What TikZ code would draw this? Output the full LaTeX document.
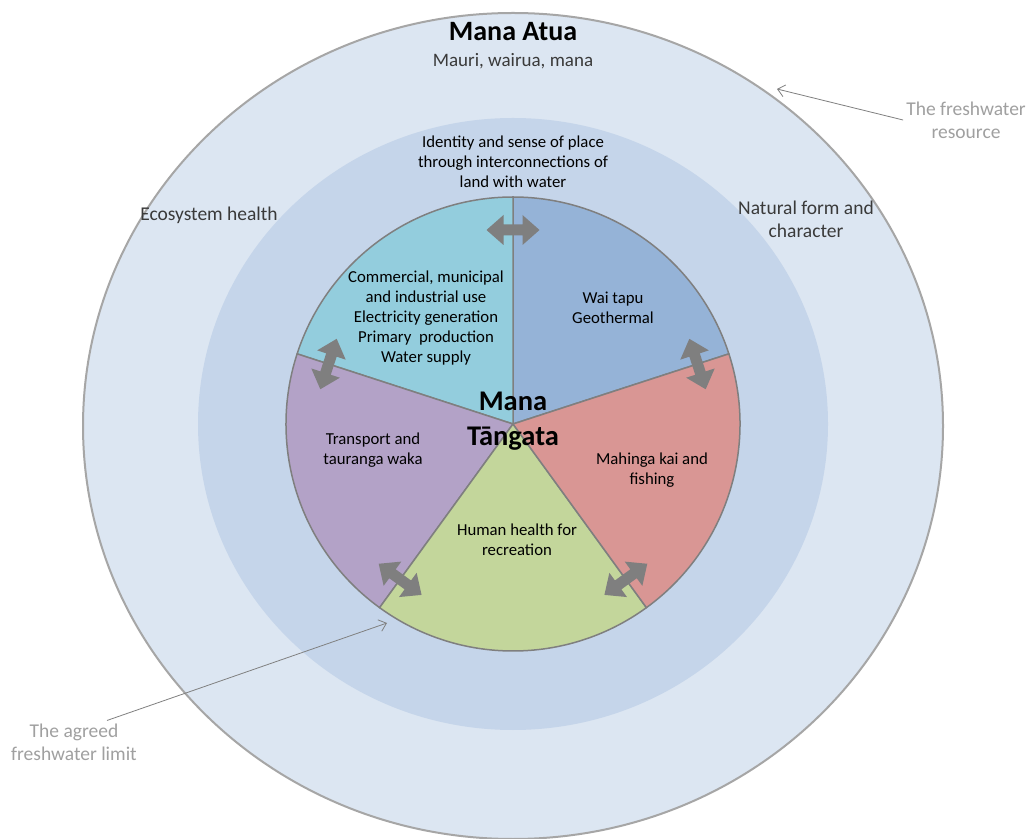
\documentclass[tikz,border=0pt]{standalone}
\usepackage{fontspec}
\setmainfont{Carlito}
\usetikzlibrary{arrows.meta}
\definecolor{outerc}{HTML}{DCE6F2}
\definecolor{outerline}{HTML}{A6A6A6}
\definecolor{midc}{HTML}{C5D5EA}
\definecolor{cyanc}{HTML}{93CDDD}
\definecolor{bluec}{HTML}{95B3D7}
\definecolor{pinkc}{HTML}{D99694}
\definecolor{greenc}{HTML}{C3D69B}
\definecolor{purplec}{HTML}{B3A2C7}
\definecolor{piegray}{HTML}{7F7F7F}
\definecolor{arrowc}{HTML}{7F7F7F}
\definecolor{darktext}{HTML}{3A3A3A}
\definecolor{notetext}{HTML}{A0A0A0}
\definecolor{noteline}{HTML}{808080}
\tikzset{
  slice/.style={draw=piegray, line width=1.5, line join=round},
  innerlabel/.style={align=center, text=black, font=\fontsize{16.75}{20}\selectfont, inner sep=0},
  outerlabel/.style={align=center, text=darktext, font=\fontsize{19.5}{23}\selectfont, inner sep=0},
  notelabel/.style={align=center, text=notetext, font=\fontsize{19.5}{23}\selectfont, inner sep=3},
  noteline/.style={draw=noteline, line width=0.8, -{Straight Barb[length=7,width=12,line width=0.8]}},
  dblarrow/.pic={\fill[arrowc] (-26.5,0) -- (-9.5,15) -- (-9.5,5.5) -- (9.5,5.5) -- (9.5,15) -- (26.5,0) -- (9.5,-15) -- (9.5,-5.5) -- (-9.5,-5.5) -- (-9.5,-15) -- cycle;}
}
\begin{document}
\begin{tikzpicture}[x=1pt,y=1pt]
\useasboundingbox (0,0) rectangle (1030,838);
\fill[white] (0,0) rectangle (1030,838);
\begin{scope}
\clip (0,0) rectangle (1030,838);
\filldraw[fill=outerc, draw=outerline, line width=2] (513,412) ellipse [x radius=430, y radius=413];
\end{scope}
\fill[midc] (513,414) ellipse [x radius=315, y radius=306];
\coordinate (c) at (513,414);
% pie slices
\filldraw[slice, fill=bluec] (c) -- ++(18:227) arc[start angle=18, end angle=90, radius=227] -- cycle;
\filldraw[slice, fill=cyanc] (c) -- ++(90:227) arc[start angle=90, end angle=162, radius=227] -- cycle;
\filldraw[slice, fill=purplec] (c) -- ++(162:227) arc[start angle=162, end angle=234, radius=227] -- cycle;
\filldraw[slice, fill=greenc] (c) -- ++(234:227) arc[start angle=234, end angle=306, radius=227] -- cycle;
\filldraw[slice, fill=pinkc] (c) -- ++(306:227) arc[start angle=306, end angle=378, radius=227] -- cycle;
% double arrows
\path (c) ++(90:194) pic[rotate=0] {dblarrow};
\path (c) ++(18:194) pic[rotate=-72] {dblarrow};
\path (c) ++(-54:192) pic[rotate=-144] {dblarrow};
\path (c) ++(-126:192) pic[rotate=-216] {dblarrow};
\path (c) ++(162:194) pic[rotate=72] {dblarrow};
% titles
\node[font=\bfseries\fontsize{28}{32}\selectfont, inner sep=0] (atua) at (513,806) {Mana Atua};
\node[text=darktext, font=\fontsize{19}{22}\selectfont, inner sep=0] (mauri) at (513,777) {Mauri, wairua, mana};
\node[innerlabel] (identity) at (513,676) {Identity and sense of place\\through interconnections of\\land with water};
\node[outerlabel] (eco) at (209,623) {Ecosystem health};
\node[outerlabel] (natural) at (806,619) {Natural form and\\character};
% slice labels
\node[innerlabel] (commercial) at (426,520) {Commercial, municipal\\and industrial use\\Electricity generation\\Primary\ \ production\\Water supply};
\node[innerlabel] (waitapu) at (613,530) {Wai tapu\\Geothermal};
\node[innerlabel] (transport) at (373,388) {Transport and\\tauranga waka};
\node[innerlabel] (mahinga) at (652,368) {Mahinga kai and\\fishing};
\node[innerlabel] (human) at (517,298) {Human health for\\recreation};
\node[font=\bfseries\fontsize{28.5}{35}\selectfont, inner sep=0, anchor=base] (manat) at (513,427) {Mana};
\node[font=\bfseries\fontsize{28.5}{35}\selectfont, inner sep=0, anchor=base] (tangata) at (513,392) {Tāngata};
% notes
\node[notelabel] (fw) at (966,718) {The freshwater\\resource};
\coordinate (fwtip) at (777,749);
\draw[noteline] (fw.west) -- (fwtip);
\node[notelabel] (al) at (74,96) {The agreed\\freshwater limit};
\coordinate (altip) at (387,215);
\draw[noteline] ([xshift=33]al.north) -- (altip);
\end{tikzpicture}
\end{document}
